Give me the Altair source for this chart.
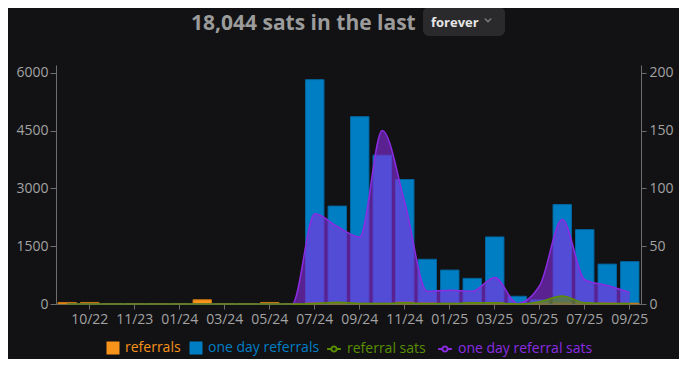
import altair as alt
import pandas as pd

months = ["09/22", "10/22", "10/23", "11/23", "12/23", "01/24", "02/24", "03/24",
          "04/24", "05/24", "06/24", "07/24", "08/24", "09/24", "10/24", "11/24",
          "12/24", "01/25", "02/25", "03/25", "04/25", "05/25", "06/25", "07/25",
          "08/25", "09/25"]
tick_labels = ["10/22", "11/23", "01/24", "03/24", "05/24", "07/24", "09/24",
               "11/24", "01/25", "03/25", "05/25", "07/25", "09/25"]
referrals = [40, 40, 0, 0, 0, 0, 110, 0, 0, 40, 0,
             30, 40, 20, 20, 50, 30, 20, 40, 40, 10, 20, 30, 20, 30, 20]
one_day_referrals = [0, 0, 0, 0, 0, 0, 0, 0, 0, 0, 0,
                     5820, 2540, 4860, 3860, 3230, 1160, 880, 665, 1740, 200,
                     105, 2580, 1930, 1035, 1100]
referral_sats = [0, 0, 0, 0, 0, 0, 0, 0, 0, 0, 0,
                 0.5, 1.5, 0.5, 0.5, 1, 0.5, 0.5, 1, 1, 0, 2, 7, 1, 0.5, 0.5]
one_day_referral_sats = [0, 0, 0, 0, 0, 0, 0, 0, 0, 0, 0,
                         78, 67, 58, 150, 88, 11, 12, 11, 23, 0.5, 16, 73, 21, 16, 10]

left_ticks = [0, 1500, 3000, 4500, 6000]
right_ticks = [0, 50, 100, 150, 200]

ORANGE = "#f7931a"
BLUE = "#007ec4"
GREEN = "#5a8f00"
PURPLE = "#8a2be2"
FONT = "Segoe UI, Open Sans, sans-serif"
AXIS_GRAY = "#6e6e6e"
LABEL_GRAY = "#a3a3a3"
BG = "#121214"

df = pd.DataFrame({
    "month": months,
    "referrals": referrals,
    "one_day_referrals": one_day_referrals,
    "referral_sats": referral_sats,
    "one_day_referral_sats": one_day_referral_sats,
})

x_enc = alt.X("month:N", sort=months,
              scale=alt.Scale(paddingInner=0.18, paddingOuter=0.09),
              axis=alt.Axis(values=tick_labels, title=None, labelAngle=0,
                            tickSize=5, labelPadding=3))

left_scale = alt.Scale(domain=[0, 6200], nice=False)
right_scale = alt.Scale(domain=[0, 206.7], nice=False)
left_axis = alt.Axis(values=left_ticks, title=None, orient="left", format="d",
                     tickSize=6, labelPadding=2)
right_axis = alt.Axis(values=right_ticks, title=None, orient="right", format="d",
                      tickSize=5, labelPadding=3)

bar_scale = alt.Scale(domain=["referrals", "one day referrals"], range=[ORANGE, BLUE])
bar_legend = alt.Legend(
    orient="none", legendX=50, legendY=276, direction="horizontal", title=None,
    symbolType="square", symbolSize=169, symbolStrokeWidth=0,
    labelFont=FONT, labelFontSize=14, labelOffset=5, columnPadding=8,
    labelLimit=300,
    labelColor=alt.ExprRef(expr="datum.label == 'referrals' ? '%s' : '%s'" % (ORANGE, BLUE)),
)

line_scale = alt.Scale(domain=["referral sats", "one day referral sats"], range=[GREEN, PURPLE])
line_symbol = ("M-1,0L-0.38,0M0.38,0L1,0M-0.38,0A0.38,0.38,0,1,1,0.38,0"
               "A0.38,0.38,0,1,1,-0.38,0Z")
line_legend = alt.Legend(
    orient="none", legendX=270, legendY=276, direction="horizontal", title=None,
    symbolType=line_symbol, symbolSize=190, symbolStrokeWidth=2,
    labelFont=FONT, labelFontSize=14, labelOffset=5, columnPadding=8,
    labelLimit=300,
    labelColor=alt.ExprRef(expr="datum.label == 'referral sats' ? '%s' : '%s'" % (GREEN, PURPLE)),
)

base = alt.Chart(df)

blue_bars = base.transform_calculate(series="'one day referrals'").mark_bar(
    stroke="#00659e", strokeWidth=1).encode(
    x=x_enc,
    y=alt.Y("one_day_referrals:Q", scale=left_scale, axis=left_axis),
    color=alt.Color("series:N", scale=bar_scale, legend=bar_legend),
)
orange_bars = base.transform_calculate(series="'referrals'").mark_bar(
    stroke="#c77410", strokeWidth=1).encode(
    x=x_enc,
    y=alt.Y("referrals:Q", scale=left_scale, axis=left_axis),
    color=alt.Color("series:N", scale=bar_scale, legend=bar_legend),
)
bars = alt.layer(blue_bars, orange_bars)

purple_area = base.mark_area(interpolate="monotone", color=PURPLE, fillOpacity=0.6).encode(
    x=x_enc,
    y=alt.Y("one_day_referral_sats:Q", scale=right_scale, axis=right_axis),
)
purple_line = base.transform_calculate(series="'one day referral sats'").mark_line(
    interpolate="monotone", strokeWidth=1.5).encode(
    x=x_enc,
    y=alt.Y("one_day_referral_sats:Q", scale=right_scale, axis=right_axis),
    color=alt.Color("series:N", scale=line_scale, legend=line_legend),
)
green_area = base.mark_area(interpolate="monotone", color=GREEN, fillOpacity=0.6).encode(
    x=x_enc,
    y=alt.Y("referral_sats:Q", scale=right_scale, axis=right_axis),
)
green_line = base.transform_calculate(series="'referral sats'").mark_line(
    interpolate="monotone", strokeWidth=1.5).encode(
    x=x_enc,
    y=alt.Y("referral_sats:Q", scale=right_scale, axis=right_axis),
    color=alt.Color("series:N", scale=line_scale, legend=line_legend),
)
areas = alt.layer(purple_area, purple_line, green_area, green_line)

hdr = alt.Chart(alt.Data(values=[{"k": 1}]))
title_txt = hdr.mark_text(text="18,044 sats in the last", font=FONT, fontSize=21,
                          fontWeight="bold", color="#9b9b9b", align="left",
                          baseline="alphabetic").encode(x=alt.value(135), y=alt.value(-35))
box = hdr.mark_rect(color="#2a2a2d", cornerRadius=6).encode(
    x=alt.value(367), x2=alt.value(449), y=alt.value(-58), y2=alt.value(-29))
box_txt = hdr.mark_text(text="forever", font=FONT, fontSize=13, fontWeight="bold",
                        color="#e6e6e6", align="left", baseline="middle").encode(
    x=alt.value(375), y=alt.value(-42))
chevron = hdr.mark_point(shape="M-1,-0.5L0,0.5L1,-0.5", filled=False, size=40,
                         stroke="#9a9a9a", strokeWidth=1.5).encode(
    x=alt.value(432), y=alt.value(-45))
header = alt.layer(box, title_txt, box_txt, chevron)

chart = alt.layer(bars, areas, header).resolve_scale(
    y="independent", color="independent"
).properties(
    width=585, height=239,
    autosize=alt.AutoSizeParams(type="none"),
    padding={"left": 48, "top": 57, "right": 38, "bottom": 55},
    background=BG,
).configure_view(stroke=None).configure_axis(
    labelFont=FONT, labelFontSize=14, labelColor=LABEL_GRAY,
    domainColor=AXIS_GRAY, tickColor=AXIS_GRAY, grid=False,
)

chart.save("out.html", embed_options={"renderer": "svg", "actions": False})
